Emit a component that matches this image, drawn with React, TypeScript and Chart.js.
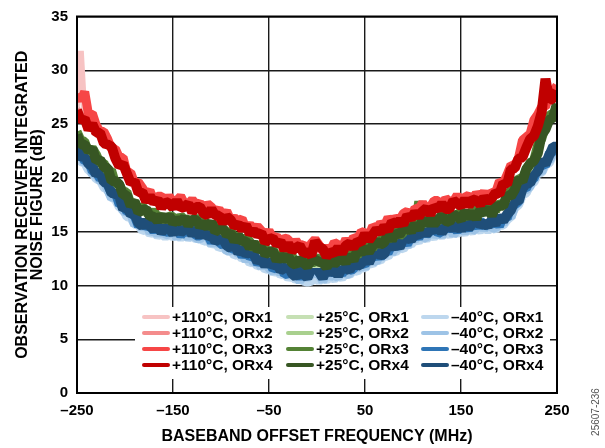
import { useEffect, useRef } from 'react';
import { Chart, registerables } from 'chart.js';

Chart.register(...registerables);

const FREQ = [
  -250,-246,-242,-238,-234,-230,-226,-222,-218,-214,
  -210,-206,-202,-198,-194,-190,-186,-182,-178,-174,
  -170,-166,-162,-158,-154,-150,-146,-142,-138,-134,
  -130,-126,-122,-118,-114,-110,-106,-102,-98,-94,
  -90,-86,-82,-78,-74,-70,-66,-62,-58,-54,
  -50,-46,-42,-38,-34,-30,-26,-22,-18,-14,
  -10,-6,-2,2,6,10,14,18,22,26,
  30,34,38,42,46,50,54,58,62,66,
  70,74,78,82,86,90,94,98,102,106,
  110,114,118,122,126,130,134,138,142,146,
  150,154,158,162,166,170,174,178,182,186,
  190,194,198,202,206,210,214,218,222,226,
  230,234,238,242,246,250,
];

const X_TICKS = [-250, -150, -50, 50, 150, 250];
const Y_TICKS = [0, 5, 10, 15, 20, 25, 30, 35];

const NF_110_ORX1 = [
  26.2,31.8,25.5,25.1,24.8,24.5,24.2,23.7,23.2,22.7,
  22.2,21.7,21.2,20.6,20.0,19.5,19.0,18.7,18.4,18.2,
  18.0,17.9,17.8,17.7,17.7,17.7,17.6,17.6,17.6,17.5,
  17.4,17.3,17.2,17.1,17.0,16.9,16.8,16.6,16.4,16.2,
  16.1,15.9,15.8,15.6,15.4,15.2,15.1,14.9,14.8,14.6,
  14.4,14.3,14.2,14.0,13.9,13.8,13.7,13.6,13.5,13.4,
  13.3,13.2,14.0,13.2,13.2,13.2,13.2,13.3,13.4,13.5,
  13.7,13.8,14.0,14.2,14.4,14.5,14.7,14.9,15.1,15.3,
  15.5,15.6,15.8,15.9,16.1,16.2,16.3,16.5,16.8,16.9,
  17.0,17.1,17.2,17.3,17.4,17.4,17.5,17.6,17.7,17.7,
  17.8,17.8,17.9,17.9,18.0,18.0,18.1,18.1,18.2,18.5,
  19.0,19.5,20.0,20.6,21.2,21.8,22.4,22.9,23.5,24.3,
  25.2,25.9,26.7,27.2,27.7,28.0,
];
const NF_110_ORX2 = [
  26.4,25.8,25.7,25.1,25.0,24.5,24.4,23.7,23.4,22.7,
  22.4,21.7,21.4,20.6,20.2,19.5,19.2,18.7,18.6,18.2,
  18.2,17.9,18.0,17.8,17.9,17.7,17.9,17.6,17.8,17.5,
  17.6,17.3,17.4,17.1,17.2,16.9,17.0,16.6,16.6,16.3,
  16.3,16.0,16.0,15.6,15.6,15.3,15.3,15.0,15.0,14.6,
  14.6,14.3,14.4,14.1,14.1,13.8,13.9,13.6,13.7,13.4,
  13.5,13.3,14.2,13.2,13.4,13.2,13.4,13.3,13.6,13.6,
  13.9,13.9,14.2,14.2,14.6,14.6,14.9,14.9,15.3,15.3,
  15.7,15.7,16.0,16.0,16.3,16.2,16.5,16.6,17.0,16.9,
  17.2,17.1,17.4,17.3,17.6,17.5,17.7,17.6,17.9,17.8,
  18.0,17.9,18.1,18.0,18.2,18.1,18.3,18.2,18.4,18.5,
  19.2,19.5,20.2,20.6,21.4,21.8,22.6,22.9,23.7,24.3,
  25.4,25.9,26.9,27.2,27.9,28.0,
];
const NF_110_ORX3 = [
  27.8,27.2,28.0,25.9,26.0,24.9,24.3,24.3,23.6,22.7,
  22.7,21.9,21.9,20.5,20.5,19.5,19.6,19.1,18.5,18.8,
  17.9,18.3,18.3,17.7,18.3,17.8,17.9,18.3,17.6,17.6,
  18.0,17.5,17.7,17.0,17.6,17.3,16.8,17.1,16.5,16.9,
  16.1,16.3,16.0,16.2,15.3,15.7,15.2,15.5,15.1,14.6,
  15.1,14.4,14.6,14.0,14.4,14.3,13.6,14.2,13.7,13.8,
  13.3,13.9,14.3,13.8,13.2,13.5,13.3,14.0,13.8,13.5,
  14.3,13.7,14.5,14.3,15.0,14.9,14.6,15.5,15.3,15.8,
  15.5,16.3,15.9,16.3,16.1,16.7,16.9,16.4,17.2,17.1,
  17.7,17.1,17.3,17.9,17.9,17.3,18.1,17.8,17.8,18.4,
  17.8,18.2,18.4,17.8,18.6,18.2,18.7,18.0,18.7,18.6,
  19.7,19.5,20.3,21.2,21.1,21.9,23.5,23.8,24.1,25.4,
  25.9,26.6,26.6,27.7,28.0,28.6,
];
const NF_110_ORX4 = [
  26.3,25.3,25.5,24.5,25.0,24.2,24.2,23.2,23.1,22.9,
  21.8,21.1,21.3,20.4,19.5,19.7,18.6,18.7,17.8,18.3,
  17.7,18.0,17.2,17.8,17.6,17.2,17.9,17.2,17.3,17.6,
  16.8,17.3,17.3,16.7,16.5,17.1,16.5,16.5,15.8,16.4,
  16.1,15.5,15.7,15.2,15.6,14.8,15.1,14.7,14.9,14.0,
  14.3,14.4,13.8,14.1,13.3,13.9,13.2,13.5,13.7,13.0,
  13.1,12.8,14.1,13.6,13.4,12.7,13.1,13.0,13.5,13.0,
  13.7,13.9,13.5,14.1,14.0,14.8,14.2,14.7,15.2,14.9,
  15.5,15.1,15.9,15.7,16.0,15.7,16.5,16.2,16.8,16.4,
  16.9,17.2,16.6,17.3,17.1,17.6,17.1,17.1,17.9,17.6,
  17.4,18.0,17.4,18.0,17.9,17.5,18.2,17.8,18.1,18.6,
  18.5,19.5,19.4,20.8,20.9,21.8,21.9,22.8,23.6,23.9,
  24.8,26.1,29.2,27.2,27.4,28.1,
];

const NF_25_ORX1 = [
  23.7,23.3,22.9,22.6,22.2,21.8,21.4,21.0,20.5,20.0,
  19.5,19.0,18.5,18.1,17.7,17.4,17.0,16.8,16.6,16.5,
  16.3,16.2,16.1,16.1,16.0,16.0,15.9,15.9,15.9,15.9,
  15.8,15.8,15.7,15.6,15.5,15.4,15.2,15.1,14.9,14.8,
  14.6,14.4,14.2,14.1,13.9,13.7,13.5,13.4,13.2,13.1,
  12.9,12.8,12.6,12.5,12.4,12.3,12.2,12.1,12.0,12.0,
  11.9,11.9,11.9,11.9,11.9,12.0,12.0,12.1,12.1,12.2,
  12.3,12.5,12.6,12.8,13.0,13.2,13.3,13.5,13.7,13.9,
  14.1,14.3,14.4,14.6,14.7,14.9,15.0,15.2,15.4,15.5,
  15.6,15.7,15.8,15.9,15.9,16.0,16.1,16.2,16.2,16.3,
  16.3,16.4,16.4,16.5,16.5,16.6,16.7,16.8,16.8,17.0,
  17.2,17.6,17.9,18.4,18.9,19.5,20.0,20.5,20.9,21.7,
  22.5,23.5,24.5,25.2,25.9,26.5,
];
const NF_25_ORX2 = [
  23.8,23.4,23.0,22.7,22.3,21.9,21.5,21.1,20.6,20.1,
  19.6,19.1,18.6,18.2,17.8,17.5,17.1,16.9,16.7,16.6,
  16.4,16.3,16.2,16.2,16.1,16.1,16.0,16.0,16.0,16.0,
  15.9,15.9,15.8,15.7,15.6,15.5,15.3,15.2,15.0,14.9,
  14.7,14.5,14.3,14.2,14.0,13.8,13.6,13.5,13.3,13.2,
  13.0,12.9,12.7,12.6,12.5,12.4,12.3,12.2,12.1,12.1,
  12.0,12.0,12.0,12.0,12.0,12.1,12.1,12.2,12.2,12.3,
  12.4,12.6,12.7,12.9,13.1,13.3,13.4,13.6,13.8,14.0,
  14.2,14.4,14.5,14.7,14.8,15.0,15.1,15.3,15.5,15.6,
  15.7,15.8,15.9,16.0,16.0,16.1,16.2,16.3,16.3,16.4,
  16.4,16.5,16.5,16.6,16.6,16.7,16.8,16.9,16.9,17.1,
  17.3,17.7,18.0,18.5,19.0,19.6,20.1,20.6,21.0,21.8,
  22.6,23.6,24.6,25.3,26.0,26.6,
];
const NF_25_ORX3 = [
  24.3,23.5,23.4,22.4,22.8,22.2,21.4,21.4,20.6,20.7,
  19.5,19.4,18.7,18.7,17.6,17.8,17.1,17.4,16.9,16.4,
  17.0,16.3,16.5,16.0,16.5,16.4,15.8,16.5,16.1,16.2,
  15.8,16.4,15.8,16.2,15.5,15.6,15.3,15.7,15.3,14.7,
  15.2,14.3,14.7,14.1,14.5,14.1,13.4,13.9,13.4,13.5,
  12.9,13.4,12.7,12.9,12.4,12.8,12.8,12.0,12.4,12.1,
  12.6,11.9,12.6,12.5,12.4,11.8,12.6,12.2,12.2,12.9,
  12.3,12.8,13.1,12.7,13.6,13.3,13.9,13.4,14.2,14.0,
  14.8,14.2,14.7,15.1,14.6,14.9,15.7,15.6,15.4,17.8,
  15.8,16.4,15.7,16.3,15.9,16.6,16.7,16.3,16.7,16.2,
  17.0,16.4,16.5,17.0,16.9,16.6,17.2,16.9,17.5,16.9,
  17.7,17.5,18.5,18.8,19.0,20.0,19.9,20.8,21.4,21.7,
  23.1,23.6,24.8,25.9,25.9,26.6,
];
const NF_25_ORX4 = [
  24.0,23.1,23.1,22.5,22.7,21.6,21.7,21.0,20.9,19.7,
  19.7,19.4,18.4,18.4,17.4,17.8,16.8,17.0,17.1,16.4,
  16.4,16.0,16.5,16.0,16.5,15.8,16.1,15.9,16.3,15.6,
  16.1,16.1,15.5,15.8,15.4,15.9,15.0,15.2,15.3,14.7,
  14.9,14.1,14.6,14.1,14.1,13.5,14.0,13.3,13.5,12.9,
  13.1,13.2,12.3,12.8,12.4,12.7,12.1,11.9,12.5,12.1,
  11.8,12.3,12.4,12.2,12.1,11.7,12.4,12.0,12.3,12.6,
  12.1,12.8,12.3,13.3,13.0,13.5,13.1,13.7,14.1,13.8,
  14.0,14.8,14.2,14.9,14.7,15.3,15.4,15.0,15.7,15.2,
  16.1,15.7,16.1,15.7,16.1,16.5,16.0,15.9,16.6,16.4,
  16.1,16.9,16.3,16.8,16.2,17.0,16.7,17.2,16.5,17.3,
  17.4,17.4,18.4,18.3,18.9,19.9,19.7,20.8,21.3,21.6,
  22.3,24.0,24.5,25.4,25.6,26.9,
];

const NF_M40_ORX1 = [
  22.2,21.5,21.4,20.7,20.6,19.9,19.8,19.1,18.9,18.2,
  18.0,17.3,17.1,16.4,16.3,15.7,15.6,15.1,15.2,14.8,
  15.0,14.6,14.8,14.5,14.8,14.5,14.7,14.4,14.7,14.4,
  14.6,14.3,14.5,14.1,14.2,13.8,14.0,13.5,13.6,13.2,
  13.3,12.8,12.9,12.5,12.6,12.1,12.2,11.8,11.9,11.5,
  11.6,11.2,11.4,11.0,11.1,10.7,10.9,10.5,10.7,10.4,
  10.3,10.4,10.7,10.4,10.7,10.5,10.8,10.6,10.9,10.7,
  11.1,11.0,11.4,11.3,11.7,11.6,12.1,12.0,12.4,12.3,
  12.8,12.7,13.2,13.1,13.5,13.4,13.9,13.8,14.3,14.1,
  14.5,14.3,14.7,14.5,14.8,14.6,14.9,14.7,15.0,14.8,
  15.1,14.9,15.2,15.0,15.3,15.1,15.4,15.1,15.4,15.2,
  15.6,15.6,16.1,16.4,17.2,17.5,18.4,18.6,19.4,19.6,
  20.4,20.5,21.2,21.4,22.2,22.4,
];
const NF_M40_ORX2 = [
  22.0,22.2,21.3,21.5,20.3,20.4,19.7,19.7,18.9,18.1,
  18.3,18.0,16.9,16.8,16.7,15.6,15.9,15.3,15.7,14.9,
  15.2,14.7,15.3,14.7,14.8,15.1,14.4,15.0,14.9,14.4,
  15.1,14.4,14.3,14.6,14.6,13.8,14.2,13.8,14.1,13.2,
  13.2,13.5,12.9,13.0,12.3,12.8,12.1,12.2,11.7,12.2,
  11.6,11.3,11.7,11.1,11.6,10.8,11.3,10.8,10.4,10.9,
  10.7,11.0,11.2,11.0,10.4,11.1,10.8,11.0,10.7,11.5,
  11.0,11.1,11.8,11.5,12.0,11.6,12.5,12.3,12.2,12.9,
  12.7,13.5,13.0,13.5,13.5,14.1,13.6,14.4,14.2,14.8,
  14.5,14.4,15.2,14.6,15.0,14.6,15.2,15.3,14.7,15.1,
  15.4,14.9,15.6,15.1,15.3,15.8,15.2,15.7,15.4,15.3,
  16.0,15.7,16.6,16.3,17.4,17.7,18.8,18.9,19.2,20.2,
  20.7,20.5,21.6,21.6,22.4,22.5,
];
const NF_M40_ORX3 = [
  22.2,22.5,21.5,21.6,20.6,20.5,19.9,20.1,19.3,18.5,
  18.6,17.5,17.6,16.8,16.9,16.4,15.5,16.0,15.4,15.6,
  15.0,15.6,14.9,15.2,14.8,15.3,15.3,14.6,15.1,14.9,
  15.3,14.6,14.6,15.0,14.7,14.0,14.6,14.0,13.7,14.2,
  13.3,13.5,13.4,12.7,13.2,12.6,12.8,12.0,12.4,11.9,
  12.3,11.5,11.7,11.9,11.0,11.1,11.6,11.2,10.7,11.2,
  10.8,11.4,11.6,11.2,10.7,11.4,11.4,11.1,11.4,11.0,
  11.8,11.4,11.5,12.2,12.1,11.9,12.6,12.5,13.1,12.5,
  13.3,13.0,13.8,13.8,13.6,14.3,13.8,14.5,14.8,14.4,
  15.1,14.7,15.0,15.5,14.8,15.0,15.5,15.2,15.5,15.0,
  15.7,15.6,15.2,15.8,15.4,16.1,15.4,15.8,15.6,16.1,
  15.5,16.4,16.2,17.3,17.5,17.8,19.1,19.0,19.8,19.9,
  20.9,21.3,21.1,22.3,22.4,23.1,
];
const NF_M40_ORX4 = [
  22.8,21.8,22.1,21.3,21.1,20.3,20.6,19.6,19.5,18.6,
  18.5,18.3,17.1,17.3,16.6,16.7,15.8,15.5,16.0,15.5,
  15.2,15.6,14.9,15.4,15.3,14.8,15.4,14.9,15.2,15.4,
  14.7,15.2,14.5,15.2,14.5,14.7,14.1,14.3,14.3,13.7,
  13.5,13.9,13.0,13.4,12.9,13.1,12.9,12.2,12.5,11.8,
  12.4,11.8,12.0,11.4,11.6,11.8,11.1,10.8,11.4,11.1,
  10.7,11.5,11.8,11.3,10.7,11.5,11.1,11.6,10.9,11.6,
  11.6,11.4,12.2,11.8,12.0,12.6,12.1,12.9,13.1,12.8,
  12.9,13.8,13.5,13.9,13.5,14.4,14.5,14.2,14.8,14.6,
  15.3,14.7,15.3,15.1,15.5,14.9,15.4,15.7,15.2,15.7,
  15.1,15.9,15.3,15.8,16.1,15.6,15.8,15.5,16.1,15.7,
  16.4,16.0,16.6,17.0,17.9,17.8,19.0,19.5,19.5,20.4,
  20.6,21.6,21.3,22.1,22.9,22.9,
];

const SERIES_LABELS = [
  '+110°C, ORx1', '+110°C, ORx2', '+110°C, ORx3', '+110°C, ORx4',
  '+25°C, ORx1', '+25°C, ORx2', '+25°C, ORx3', '+25°C, ORx4',
  '–40°C, ORx1', '–40°C, ORx2', '–40°C, ORx3', '–40°C, ORx4',
];
const SERIES_VALUES = [
  NF_110_ORX1, NF_110_ORX2, NF_110_ORX3, NF_110_ORX4,
  NF_25_ORX1, NF_25_ORX2, NF_25_ORX3, NF_25_ORX4,
  NF_M40_ORX1, NF_M40_ORX2, NF_M40_ORX3, NF_M40_ORX4,
];
const SERIES_COLORS = [
  '#f7c3c3', '#f48c8c', '#f64646', '#c00000',
  '#c6e0b4', '#a9d08e', '#548235', '#375623',
  '#bdd7ee', '#9dc3e6', '#2e75b6', '#1f4e79',
];
const SERIES_WIDTHS = [6, 7, 9, 10, 6, 6, 9, 10, 9, 9, 9, 10];
// lower order is drawn on top: red over green over blue, ORx4 over ORx1
const SERIES_ORDER = [3, 2, 1, 0, 7, 6, 5, 4, 11, 10, 9, 8];

const FONT = "'Liberation Sans', Arial, Helvetica, sans-serif";
const Y_TITLE = ['OBSERVATION RECEIVER INTEGRATED', 'NOISE FIGURE (dB)'];
const X_TITLE = 'BASEBAND OFFSET FREQUENCY (MHz)';
const FIG_ID = '25607-236';

const fmt = (v: number) => (v < 0 ? '\u2013' + Math.abs(v) : String(v));

const decor = {
  id: 'decor',
  beforeDatasetsDraw(chart: any) {
    const { ctx, chartArea: a } = chart;
    ctx.save();
    ctx.fillStyle = '#ffffff';
    ctx.fillRect(a.left + 58, a.bottom - 86, 415, 72);
    ctx.restore();
  },
  afterDraw(chart: any) {
    const { ctx, chartArea: a } = chart;
    ctx.save();
    ctx.strokeStyle = '#000';
    ctx.lineWidth = 2;
    ctx.strokeRect(a.left, a.top, a.right - a.left, a.bottom - a.top);

    const colX = [a.left + 66, a.left + 210, a.left + 345];
    const rowY = [a.bottom - 76, a.bottom - 60, a.bottom - 44, a.bottom - 28];
    ctx.font = `bold 15.5px ${FONT}`;
    ctx.textAlign = 'left';
    ctx.textBaseline = 'middle';
    chart.data.datasets.forEach((ds: any, i: number) => {
      const c = Math.floor(i / 4);
      const r = i % 4;
      const x = colX[c];
      const y = rowY[r];
      ctx.strokeStyle = ds.borderColor;
      ctx.lineWidth = 4;
      ctx.lineCap = 'round';
      ctx.beginPath();
      ctx.moveTo(x + 1, y);
      ctx.lineTo(x + 25, y);
      ctx.stroke();
      ctx.fillStyle = '#000';
      ctx.fillText(ds.label, x + 29, y + 0.5);
    });

    ctx.fillStyle = '#000';
    ctx.font = `bold 16px ${FONT}`;
    ctx.textAlign = 'center';
    ctx.textBaseline = 'middle';
    ctx.fillText(X_TITLE, (a.left + a.right) / 2, 437);
    ctx.save();
    ctx.translate(23, (a.top + a.bottom) / 2);
    ctx.rotate(-Math.PI / 2);
    ctx.fillText(Y_TITLE[0], 0, 0);
    ctx.fillText(Y_TITLE[1], 0, 15);
    ctx.restore();

    ctx.save();
    ctx.fillStyle = '#555';
    ctx.font = `10px ${FONT}`;
    ctx.translate(596, 412);
    ctx.rotate(-Math.PI / 2);
    ctx.fillText(FIG_ID, 0, 0);
    ctx.restore();
    ctx.restore();
  },
};

export default function App() {
  const ref = useRef<HTMLCanvasElement | null>(null);
  useEffect(() => {
    if (!ref.current) return;
    const chart = new Chart(ref.current, {
      type: 'line',
      data: {
        datasets: SERIES_VALUES.map((vals, i) => ({
          label: SERIES_LABELS[i],
          data: FREQ.map((f, j) => ({ x: f, y: vals[j] })),
          borderColor: SERIES_COLORS[i],
          backgroundColor: SERIES_COLORS[i],
          borderWidth: SERIES_WIDTHS[i],
          borderJoinStyle: 'bevel' as const,
          pointRadius: 0,
          tension: 0,
          fill: false,
          clip: 0,
          order: SERIES_ORDER[i],
        })),
      },
      options: {
        responsive: false,
        animation: false,
        events: [],
        layout: { padding: { left: 0, right: 48, top: 8, bottom: 0 } },
        plugins: { legend: { display: false }, tooltip: { enabled: false }, title: { display: false } },
        scales: {
          x: {
            type: 'linear',
            min: -250,
            max: 250,
            afterBuildTicks: (s: any) => { s.ticks = X_TICKS.map((v) => ({ value: v })); },
            afterFit: (s: any) => { s.height = 55; },
            grid: { color: '#1a1a1a', lineWidth: 1.4, drawTicks: false },
            border: { display: false },
            ticks: {
              color: '#000',
              padding: 10,
              maxRotation: 0,
              autoSkip: false,
              font: { family: FONT, size: 15, weight: 'bold', lineHeight: 1 },
              callback: (v: any) => fmt(Number(v)),
            },
          },
          y: {
            type: 'linear',
            min: 0,
            max: 35,
            afterBuildTicks: (s: any) => { s.ticks = Y_TICKS.map((v) => ({ value: v })); },
            afterFit: (s: any) => { s.width = 77; },
            grid: { color: '#1a1a1a', lineWidth: 1.4, drawTicks: false },
            border: { display: false },
            ticks: {
              color: '#000',
              padding: 9,
              autoSkip: false,
              font: { family: FONT, size: 15, weight: 'bold', lineHeight: 1 },
              callback: (v: any) => fmt(Number(v)),
            },
          },
        },
      },
      plugins: [decor],
    });
    return () => chart.destroy();
  }, []);
  return (
    <div style={{ position: 'absolute', left: 0, top: 0, width: 605, height: 448, background: '#fff' }}>
      <canvas ref={ref} width={605} height={448} />
    </div>
  );
}
